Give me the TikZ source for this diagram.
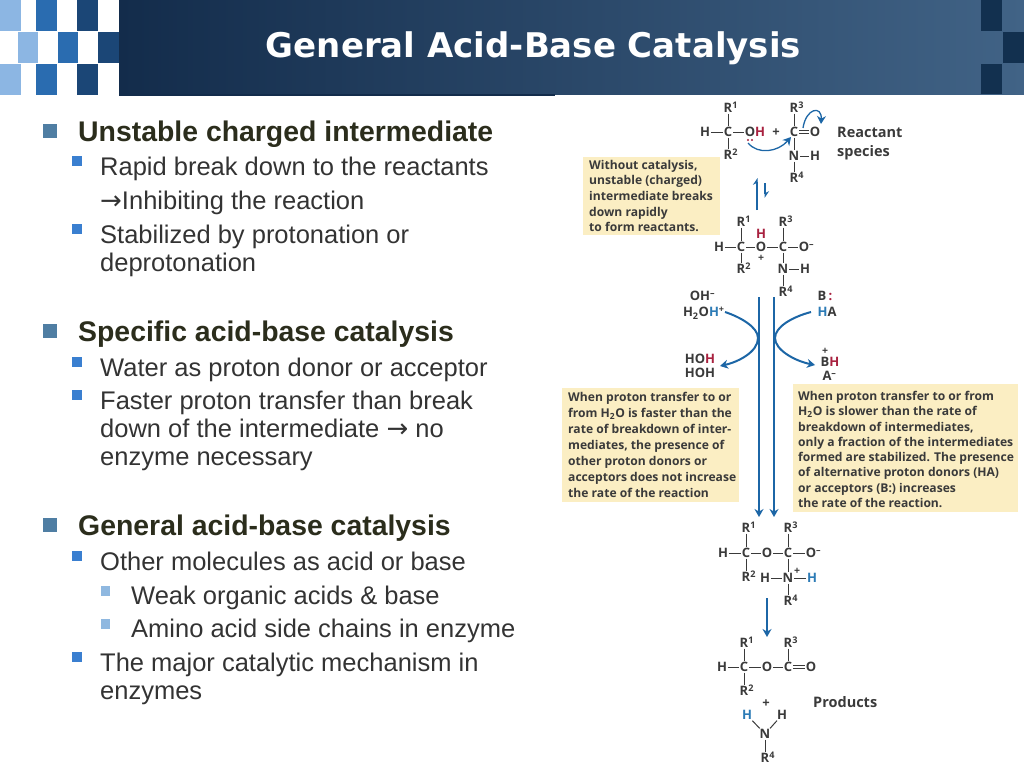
\documentclass[tikz,border=0pt]{standalone}
\usepackage{tikz}
\usepackage{xcolor}
\usepackage{fontspec}
\usetikzlibrary{arrows.meta}
\setmainfont{Liberation Sans}
\newfontfamily\titlefont{DejaVu Sans}
\newfontfamily\arrowfont{DejaVu Sans}
\newfontfamily\chemfont{Open Sans}
\definecolor{bandleft}{HTML}{132C4B}
\definecolor{bandright}{HTML}{416386}
\definecolor{tilelight}{HTML}{8CB6E3}
\definecolor{tilemid}{HTML}{2A6CB0}
\definecolor{tiledark}{HTML}{1B4676}
\definecolor{tilecorner}{HTML}{12304F}
\definecolor{headtext}{HTML}{2B2D1C}
\definecolor{bodytext}{HTML}{333333}
\definecolor{bulletone}{HTML}{4F7EA3}
\definecolor{bullettwo}{HTML}{3A7FD0}
\definecolor{bulletthree}{HTML}{8FB8E0}
\definecolor{notefill}{HTML}{FBEEC3}
\definecolor{chemtext}{HTML}{3A3A3A}
\definecolor{chemblue}{HTML}{1C66A6}
\definecolor{hblue}{HTML}{2C7BB6}
\definecolor{hred}{HTML}{A8213F}
\newcommand{\Rg}[1]{R\rlap{\textsuperscript{#1}}}
\newcommand{\Ominus}{O\rlap{\textsuperscript{–}}}
\newcommand{\bigarrow}{{\arrowfont\fontsize{26}{28}\selectfont →}}
\begin{document}
\begin{tikzpicture}[x=1pt,y=-1pt,
  headline/.style={anchor=base west,inner sep=0,text=headtext,font=\fontsize{28.4}{28}\selectfont\bfseries},
  bodyline/.style={anchor=base west,inner sep=0,text=bodytext,align=left,font=\fontsize{25.5}{28}\selectfont},
  notebox/.style={anchor=north west,inner sep=0,text=chemtext,align=left,font=\chemfont\fontsize{12.1}{#1}\selectfont\bfseries},
  atom/.style={inner sep=0.8pt,text=chemtext,text height=9.3pt,text depth=0pt,font=\chemfont\fontsize{13}{13}\selectfont\bfseries},
  plusmark/.style={inner sep=0,text=chemtext,font=\chemfont\fontsize{10.5}{10.5}\selectfont\bfseries},
  bond/.style={draw=chemtext,line width=1pt},
  chemlabel/.style={anchor=west,inner sep=0,text=chemtext,align=left,font=\chemfont\fontsize{14.5}{19}\selectfont\bfseries},
  curvearrow/.style={draw=chemblue,line width=2pt,-{Stealth[length=8pt,width=9pt]}},
  longarrow/.style={draw=chemblue,line width=2pt,-{Stealth[length=8pt,width=9pt]}}]
\useasboundingbox (0,0) rectangle (1024,768);
% title band
\shade[left color=bandleft,right color=bandright] (119,0) rectangle (1024,94);
\fill[bandleft] (119,94) rectangle (555,96);
\fill[tilelight] (0,0) rectangle (21,31);
\fill[tilemid] (36,0) rectangle (57,31);
\fill[tiledark] (77,0) rectangle (98,31);
\fill[tilelight] (18,32) rectangle (38,63);
\fill[tilemid] (58,32) rectangle (78,63);
\fill[tiledark] (98,32) rectangle (119,63);
\fill[tilelight] (0,64) rectangle (21,95);
\fill[tilemid] (36,64) rectangle (57,95);
\fill[tiledark] (77,64) rectangle (98,95);
\fill[tilecorner] (981,0) rectangle (1002,31);
\fill[tilecorner] (1003,32) rectangle (1024,63);
\fill[tilecorner] (981,64) rectangle (1002,94);
\node[text=white,inner sep=0,font=\titlefont\fontsize{34}{34}\selectfont\bfseries] (title) at (533.5,48) {General Acid-Base Catalysis};
% bullets
\fill[bulletone] (43,124) rectangle (57,138);
\fill[bulletone] (43,324) rectangle (57,338);
\fill[bulletone] (43,518) rectangle (57,532);
\fill[bullettwo] (72,156) rectangle (82,166);
\fill[bullettwo] (72,224) rectangle (82,234);
\fill[bullettwo] (72,357) rectangle (82,367);
\fill[bullettwo] (72,390) rectangle (82,400);
\fill[bullettwo] (72,551) rectangle (82,561);
\fill[bullettwo] (72,652) rectangle (82,662);
\fill[bulletthree] (101,586) rectangle (110,596);
\fill[bulletthree] (101,619) rectangle (110,629);
% slide text
\node[headline] (unstable) at (78,141) {Unstable charged intermediate};
\node[bodyline] (rapid) at (100,175) {Rapid break down to the reactants};
\node[bodyline] (inhibit) at (100,209) {\bigarrow Inhibiting the reaction};
\node[bodyline] (stabil) at (100,271) {Stabilized by protonation or\\deprotonation};
\node[headline] (specific) at (78,341) {Specific acid-base catalysis};
\node[bodyline] (water) at (100,376) {Water as proton donor or acceptor};
\node[bodyline] (faster) at (100,465) {Faster proton transfer than break\\down of the intermediate \bigarrow{} no\\enzyme necessary};
\node[headline] (general) at (78,535) {General acid-base catalysis};
\node[bodyline] (other) at (100,570) {Other molecules as acid or base};
\node[bodyline] (weak) at (131,604) {Weak organic acids \& base};
\node[bodyline] (amino) at (131,637) {Amino acid side chains in enzyme};
\node[bodyline] (major) at (100,699) {The major catalytic mechanism in\\enzymes};
% yellow notes
\fill[notefill] (583,157) rectangle (720,235);
\fill[notefill] (562,388) rectangle (739,502);
\fill[notefill] (793,384) rectangle (1018,512);
\node[notebox=15.6] (noteone) at (589,160) {Without catalysis,\\unstable (charged)\\intermediate breaks\\down rapidly\\to form reactants.};
\node[notebox=16] (notetwo) at (568,392) {When proton transfer to or\\from H\textsubscript{2}O is faster than the\\rate of breakdown of inter-\\mediates, the presence of\\other proton donors or\\acceptors does not increase\\the rate of the reaction};
\node[notebox=15.3] (notethree) at (798,391) {When proton transfer to or from\\H\textsubscript{2}O is slower than the rate of\\breakdown of intermediates,\\only a fraction of the intermediates\\formed are stabilized. The presence\\of alternative proton donors (HA)\\or acceptors (B\textbf{:}) increases\\the rate of the reaction.};
% reactants
\node[atom] (ar1) at (728,108) {\Rg{1}};
\node[atom] (ah1) at (705,132) {H};
\node[atom] (ac1) at (728,132) {C};
\node[atom] (aoh) at (755,132) {O\textcolor{hred}{H}};
\node[atom] (ar2) at (728,155) {\Rg{2}};
\node[atom] (aplus) at (776,132) {+};
\node[atom] (ac2) at (794,132) {C};
\node[atom] (ao2) at (815,132) {O};
\node[atom] (ar3) at (794,108) {\Rg{3}};
\node[atom] (an) at (794,156) {N};
\node[atom] (anh) at (815,156) {H};
\node[atom] (ar4) at (794,178) {\Rg{4}};
\draw[bond] (ar1) -- (ac1);
\draw[bond] (ah1) -- (ac1);
\draw[bond] (ac1) -- (aoh);
\draw[bond] (ac1) -- (ar2);
\draw[bond] (ar3) -- (ac2);
\draw[bond,double,double distance=1.5pt] (ac2) -- (ao2);
\draw[bond] (ac2) -- (an);
\draw[bond] (an) -- (anh);
\draw[bond] (an) -- (ar4);
\fill[hred] (748,140) circle (1.1);
\fill[hred] (752,140) circle (1.1);
\coordinate (lpstart) at (748,143);
\coordinate (lpend) at (791,137);
\coordinate (pistart) at (803,128);
\coordinate (piend) at (821,124);
\draw[curvearrow,line width=1.3pt] (lpstart) .. controls (758,155) and (778,152) .. (lpend);
\draw[curvearrow,line width=1.3pt] (pistart) .. controls (806,108) and (822,105) .. (piend);
\node[chemlabel] (reactant) at (837,143.5) {Reactant\\species};
% first equilibrium
\coordinate (eqonea) at (757,210);
\coordinate (eqoneb) at (757,178);
\coordinate (eqtwoa) at (765,183);
\coordinate (eqtwob) at (765,198);
\draw[chemblue,line width=1.3pt,-{Stealth[left,length=6pt,width=8pt]}] (eqonea) -- (eqoneb);
\draw[chemblue,line width=1.3pt,-{Stealth[left,length=6pt,width=8pt]}] (eqtwoa) -- (eqtwob);
% charged intermediate
\node[atom] (br1) at (741,222) {\Rg{1}};
\node[atom] (bh1) at (719,247) {H};
\node[atom] (bc1) at (741,247) {C};
\node[atom] (bo) at (761,247) {O};
\node[atom,text=hred] (bhr) at (761,234) {H};
\node[plusmark] (bplus) at (761,258) {+};
\node[atom] (bc2) at (783,247) {C};
\node[atom] (bo2) at (804,247) {\Ominus};
\node[atom] (br2) at (741,269) {\Rg{2}};
\node[atom] (br3) at (783,222) {\Rg{3}};
\node[atom] (bn) at (783,269) {N};
\node[atom] (bnh) at (805,269) {H};
\node[atom] (br4) at (783,292) {\Rg{4}};
\draw[bond] (br1) -- (bc1);
\draw[bond] (bh1) -- (bc1);
\draw[bond] (bc1) -- (bo);
\draw[bond] (bc1) -- (br2);
\draw[bond] (bo) -- (bc2);
\draw[bond] (br3) -- (bc2);
\draw[bond] (bc2) -- (bo2);
\draw[bond] (bc2) -- (bn);
\draw[bond] (bn) -- (bnh);
\draw[bond] (bn) -- (br4);
% proton donors and acceptors
\node[atom] (oh) at (700,296) {OH\rlap{\textsuperscript{–}}};
\node[atom] (hoplus) at (701,312) {H\textsubscript{2}O\textcolor{hblue}{H}\rlap{\textsuperscript{+}}};
\node[atom] (hohr) at (700,359) {HO\textcolor{hred}{H}};
\node[atom] (hoh) at (700,373) {HOH};
\node[atom] (bcolon) at (825,296) {B\textcolor{hred}{\,:}};
\node[atom] (ha) at (827,312) {\textcolor{hblue}{H}A};
\node[plusmark] (bplusb) at (825,351) {+};
\node[atom] (bh) at (830,362) {B\textcolor{hred}{H}};
\node[atom] (aminus) at (827,376) {A\rlap{\textsuperscript{–}}};
\coordinate (turnleft) at (758,338);
\coordinate (turnright) at (775,338);
\coordinate (topleft) at (759,297);
\coordinate (topright) at (774,297);
\coordinate (botleft) at (759,517);
\coordinate (botright) at (774,517);
\coordinate (startleft) at (725,312);
\coordinate (endleft) at (720,366);
\coordinate (startright) at (811,312);
\coordinate (endright) at (815,365);
\draw[longarrow] (topleft) -- (botleft);
\draw[longarrow] (topright) -- (botright);
\draw[curvearrow] (startleft) .. controls (740,317) and (758,327) .. (turnleft) .. controls (758,352) and (738,362) .. (endleft);
\draw[curvearrow] (startright) .. controls (792,317) and (775,327) .. (turnright) .. controls (775,350) and (795,361) .. (endright);
% zwitterion
\node[atom] (cr1) at (746,528) {\Rg{1}};
\node[atom] (ch1) at (723,553) {H};
\node[atom] (cc1) at (746,553) {C};
\node[atom] (co) at (767,553) {O};
\node[atom] (cc2) at (788,553) {C};
\node[atom] (co2) at (811,553) {\Ominus};
\node[atom] (cr2) at (746,577) {\Rg{2}};
\node[atom] (cr3) at (788,528) {\Rg{3}};
\node[atom] (chn) at (765,578) {H};
\node[atom] (cn) at (788,578) {N};
\node[plusmark] (cplus) at (797,571) {+};
\node[atom,text=hblue] (chb) at (812,578) {H};
\node[atom] (cr4) at (788,601) {\Rg{4}};
\draw[bond] (cr1) -- (cc1);
\draw[bond] (ch1) -- (cc1);
\draw[bond] (cc1) -- (co);
\draw[bond] (cc1) -- (cr2);
\draw[bond] (co) -- (cc2);
\draw[bond] (cr3) -- (cc2);
\draw[bond] (cc2) -- (co2);
\draw[bond] (cc2) -- (cn);
\draw[bond] (chn) -- (cn);
\draw[bond] (cn) -- (chb);
\draw[bond] (cn) -- (cr4);
\coordinate (finala) at (767,598);
\coordinate (finalb) at (767,637);
\draw[longarrow] (finala) -- (finalb);
% products
\node[atom] (dr1) at (744,643) {\Rg{1}};
\node[atom] (dh1) at (722,667) {H};
\node[atom] (dc1) at (744,667) {C};
\node[atom] (do) at (767,667) {O};
\node[atom] (dc2) at (788,667) {C};
\node[atom] (do2) at (811,667) {O};
\node[atom] (dr2) at (744,691) {\Rg{2}};
\node[atom] (dr3) at (788,643) {\Rg{3}};
\node[atom] (dplus) at (766,703) {+};
\node[chemlabel] (products) at (813,702) {Products};
\node[atom,text=hblue] (dhb) at (747,715) {H};
\node[atom] (dh) at (782,715) {H};
\node[atom] (dn) at (765,734) {N};
\node[atom] (dr4) at (765,758) {\Rg{4}};
\draw[bond] (dr1) -- (dc1);
\draw[bond] (dh1) -- (dc1);
\draw[bond] (dc1) -- (do);
\draw[bond] (dc1) -- (dr2);
\draw[bond] (do) -- (dc2);
\draw[bond] (dr3) -- (dc2);
\draw[bond,double,double distance=1.5pt] (dc2) -- (do2);
\draw[bond] (dhb) -- (dn);
\draw[bond] (dh) -- (dn);
\draw[bond] (dn) -- (dr4);
\end{tikzpicture}
\end{document}
